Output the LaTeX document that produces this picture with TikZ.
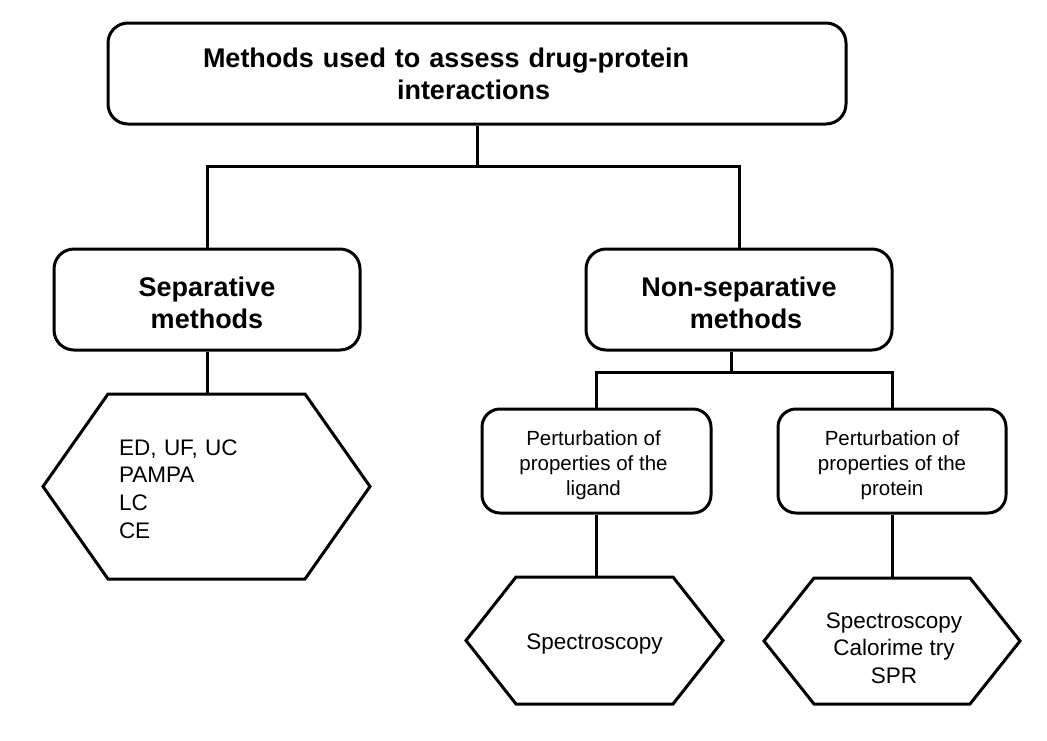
\documentclass[tikz,border=0pt]{standalone}
\usepackage{fontspec}
\setmainfont{Liberation Sans}
\usetikzlibrary{calc}
\newcommand{\hexdraw}[2]{\draw (#1.west) -- ($(#1.north west)+(#2,0)$) -- ($(#1.north east)+(-#2,0)$) -- (#1.east) -- ($(#1.south east)+(-#2,0)$) -- ($(#1.south west)+(#2,0)$) -- cycle;}
\begin{document}
\begin{tikzpicture}[x=1pt,y=-1pt,line width=3pt,
  bigbox/.style={draw, rounded corners=20pt, inner sep=0pt, minimum width=306pt, minimum height=101pt},
  smallbox/.style={draw, rounded corners=18pt, inner sep=0pt, minimum width=229pt, minimum height=104pt},
  hexnode/.style={inner sep=0pt, outer sep=0pt},
  bigtext/.style={inner sep=0pt, align=center, font=\fontsize{27}{32}\selectfont\bfseries},
  smalltext/.style={inner sep=0pt, align=center, font=\fontsize{20.5}{25}\selectfont},
  hextext/.style={inner sep=0pt, align=center, font=\fontsize{22.5}{27.7}\selectfont},
  conn/.style={draw, line width=3pt}]
\useasboundingbox (0,0) rectangle (1047,740);
\node[bigbox, minimum width=738pt] (top) at (477,73.5) {};
\node[bigbox] (sep) at (207,299.5) {};
\node[bigbox] (non) at (739,299.5) {};
\node[smallbox] (s1) at (596.5,461) {};
\node[smallbox, minimum width=228pt] (s2) at (892,461) {};
\node[hexnode, minimum width=327pt, minimum height=185pt] (h1) at (206.5,486.5) {};
\node[hexnode, minimum width=257pt, minimum height=127pt] (h2) at (594.5,640.5) {};
\node[hexnode, minimum width=256pt, minimum height=126pt] (h3) at (892,641) {};
\hexdraw{h1}{65}
\hexdraw{h2}{50}
\hexdraw{h3}{50}
\node[bigtext, align=left, text width=548pt] (toptxt) at (top) {Methods used to assess drug-protein\\\hspace*{194pt}interactions};
\node[bigtext] (septxt) at ($(sep)+(0,3)$) {Separative\\methods};
\node[bigtext] (nontxt) at ($(non)+(0,3.5)$) {Non-separative\\\hspace*{14pt}methods};
\node[smalltext] (s1txt) at ($(s1)+(-3,4)$) {Perturbation of\\properties of the\\ligand};
\node[smalltext] (s2txt) at ($(s2)+(0,4)$) {Perturbation of\\properties of the\\protein};
\node[hextext, align=left, text width=175pt] (h1txt) at ($(h1)+(0,2.5)$) {ED, UF, UC\\PAMPA\\LC\\CE};
\node[hextext] (h2txt) at ($(h2)+(0,3)$) {Spectroscopy};
\node[hextext] (h3txt) at ($(h3)+(2,7)$) {Spectroscopy\\Calorime try\\SPR};
\coordinate (j1) at ($(top.south)+(0,41)$);
\coordinate (j2) at (731,372);
\draw[conn] (top.south) -- (j1);
\draw[conn] (sep.north) -- (sep.north |- j1) -- (non.north |- j1) -- (non.north);
\draw[conn] (j2 |- non.south) -- (j2);
\draw[conn] (s1.north) -- (s1.north |- j2) -- (s2.north |- j2) -- (s2.north);
\draw[conn] (sep.south) -- (sep.south |- h1.north);
\draw[conn] (s1.south) -- (s1.south |- h2.north);
\draw[conn] (s2.south) -- (s2.south |- h3.north);
\end{tikzpicture}
\end{document}
